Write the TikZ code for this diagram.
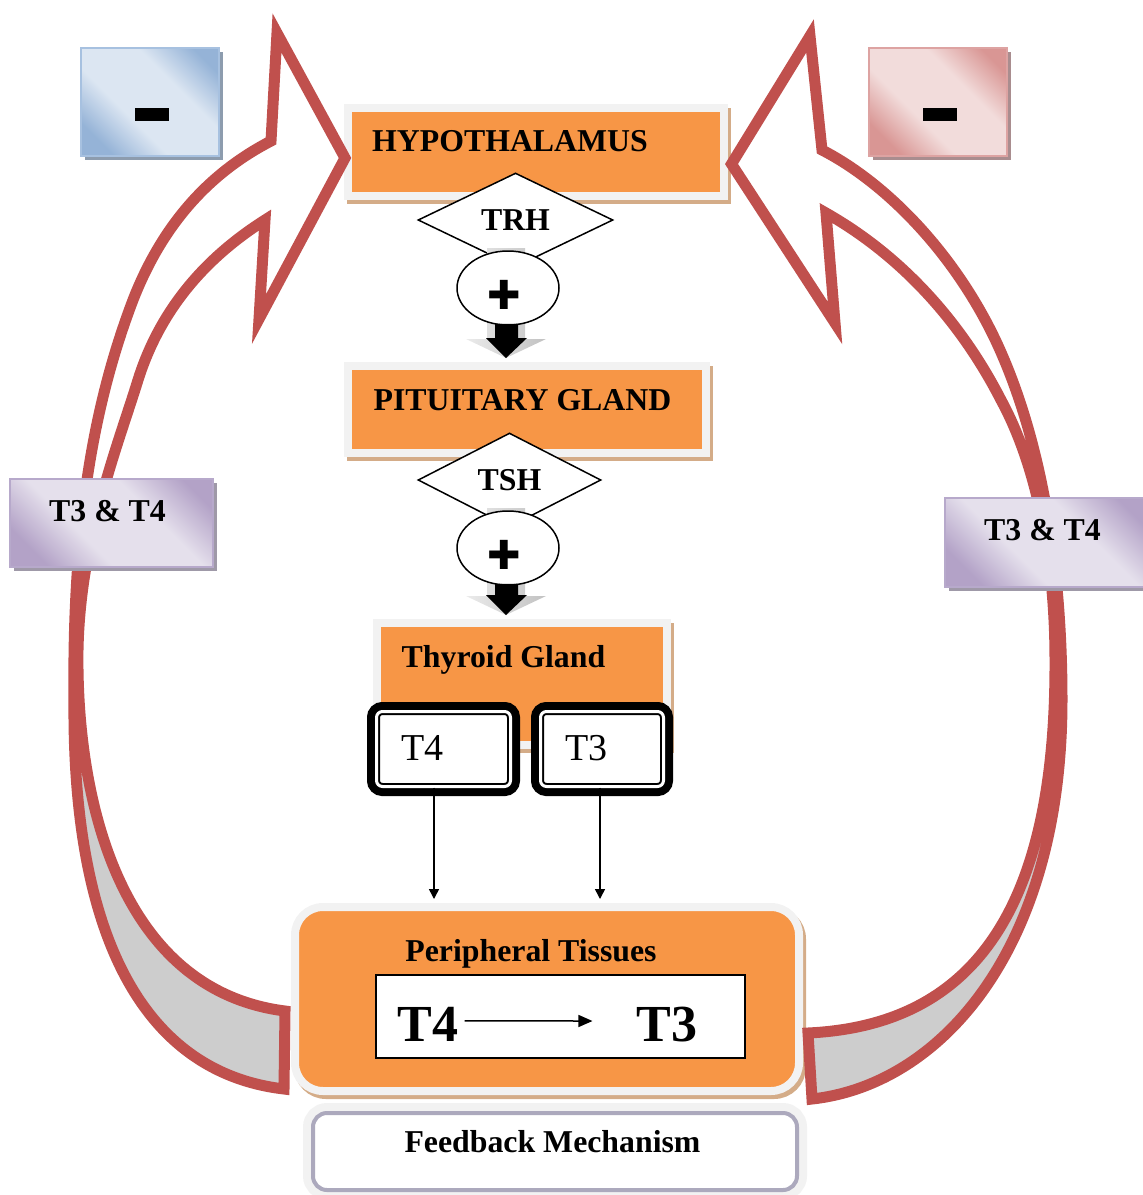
\documentclass[tikz,border=0pt]{standalone}
\usepackage{fontspec}
\setmainfont{Liberation Serif}
\newfontfamily\dingfont{DejaVu Sans}
\usetikzlibrary{arrows.meta,calc,shapes.geometric}
\definecolor{boxorange}{HTML}{F79646}
\definecolor{framegray}{HTML}{F2F2F2}
\definecolor{tanshade}{HTML}{D4AC88}
\definecolor{loopred}{HTML}{C0504D}
\definecolor{backgray}{HTML}{CDCDCD}
\definecolor{blueL}{HTML}{DCE6F2}
\definecolor{blueD}{HTML}{95B3D7}
\definecolor{blueedge}{HTML}{A7C1E0}
\definecolor{blueshade}{HTML}{8D9CAE}
\definecolor{redL}{HTML}{F2DCDB}
\definecolor{redD}{HTML}{D99694}
\definecolor{rededge}{HTML}{DDA3A2}
\definecolor{redshade}{HTML}{A98D8F}
\definecolor{purL}{HTML}{E5E0EC}
\definecolor{purD}{HTML}{B3A2C7}
\definecolor{puredge}{HTML}{B7A9CB}
\definecolor{purshade}{HTML}{9F99A8}
\definecolor{fbedge}{HTML}{ACA9BD}
\pgfdeclareverticalshading{bluegloss}{100bp}{color(0bp)=(blueD); color(24bp)=(blueD); color(40bp)=(blueL); color(62bp)=(blueL); color(78bp)=(blueD); color(100bp)=(blueD)}
\pgfdeclareverticalshading{redgloss}{100bp}{color(0bp)=(redD); color(24bp)=(redD); color(40bp)=(redL); color(62bp)=(redL); color(78bp)=(redD); color(100bp)=(redD)}
\pgfdeclareverticalshading{purgloss}{100bp}{color(0bp)=(purD); color(24bp)=(purD); color(40bp)=(purL); color(62bp)=(purL); color(78bp)=(purD); color(100bp)=(purD)}
\pgfdeclareverticalshading{loopfill}{100bp}{color(0bp)=(backgray); color(46bp)=(backgray); color(48bp)=(white); color(100bp)=(white)}
\tikzset{
    orangebox/.style={fill=boxorange,draw=framegray,line width=8pt,inner sep=0pt,
      preaction={fill=tanshade,draw=tanshade,line width=8pt,transform canvas={xshift=3pt,yshift=-4pt}}},
    signbox/.style n args={3}{shade,shading=#1,shading angle=-45,draw=#2,line width=2pt,inner sep=0pt,
      preaction={fill=#3,transform canvas={xshift=4pt,yshift=-4pt}}},
    minusbar/.style={fill=black,minimum width=34pt,minimum height=13pt,inner sep=0pt},
    gate/.style={diamond,draw,fill=white,line width=1.5pt,inner sep=0pt,
      minimum height=94pt,font=\fontsize{31.8}{36}\selectfont\bfseries},
    plusnode/.style={ellipse,draw,fill=white,line width=1.5pt,inner sep=0pt,
      minimum width=102pt,minimum height=74pt},
    plusmark/.style={inner sep=0pt,font=\fontsize{40}{40}\selectfont\dingfont},
    hormbox/.style={fill=white,draw=black,line width=2pt,double=white,double distance=3pt,
      rounded corners=6pt,inner sep=0pt,minimum height=75pt,preaction={draw=black,line width=19pt}},
    convbox/.style={fill=white,draw=black,line width=1.5pt,inner sep=0pt,
      minimum width=369pt,minimum height=83pt},
    fbbox/.style={fill=white,draw=fbedge,line width=4pt,rounded corners=14pt,inner sep=0pt,
      minimum width=484pt,minimum height=77pt,preaction={draw=framegray,line width=20pt}},
    lbl/.style={inner sep=0pt,anchor=base,font=\fontsize{31.8}{36}\selectfont\bfseries},
    hormtxt/.style={inner sep=0pt,anchor=base,font=\fontsize{38}{42}\selectfont},
    bigtxt/.style={inner sep=0pt,anchor=base,font=\fontsize{52}{56}\selectfont\bfseries},
    thinarrow/.style={-{Triangle[length=10pt,width=10pt]},line width=1.5pt},
    convarrow/.style={-{Triangle[length=14pt,width=12pt]},line width=1.5pt},
    ghostarrow/.style={left color=black!8,right color=black!24},
    loopbody/.style={draw=loopred,line width=11pt,line join=miter,shading=loopfill}
}
\begin{document}
\begin{tikzpicture}[x=1pt,y=-1pt]
  \useasboundingbox (0,0) rectangle (1143,1195);

  \node[orangebox,minimum width=376pt,minimum height=88pt] (hyp) at (536,152) {};
  \node[orangebox,minimum width=358pt,minimum height=87pt] (pit) at (527,409.5) {};
  \node[orangebox,minimum width=290pt,minimum height=122pt] (thy) at (522,684) {};
  \node[orangebox,rounded corners=28pt,minimum width=504pt,minimum height=184pt] (peri) at (547,999) {};
  \node[convbox] (conv) at (560.5,1016.5) {};
  \node[fbbox] (fb) at (555,1151.5) {};

  \node[lbl] (hypT) at (510,151) {HYPOTHALAMUS};
  \node[lbl] (pitT) at (522.5,410) {PITUITARY GLAND};
  \node[lbl] (thyT) at (503.5,667) {Thyroid Gland};
  \node[lbl] (periT) at (531,961) {Peripheral Tissues};
  \node[lbl] (fbT) at (552.5,1152) {Feedback Mechanism};
  \node[bigtxt] (bigT4) at (428,1041) {T4};
  \node[bigtxt] (bigT3) at (667,1041) {T3};
  \draw[convarrow,shorten <=6pt,shorten >=44pt] ([yshift=3pt]bigT4.east) -- ([yshift=3pt]bigT3.west);

  \shadedraw[loopbody] (284,1089) .. controls (140,1072) and (72,930) .. (74,700)
    .. controls (72,520) and (95,400) .. (133,300)
    .. controls (165,218) and (215,170) .. (271,141)
    -- (277,33) -- (345,158) -- (259,319) -- (265,220)
    .. controls (205,258) and (160,310) .. (138,380)
    .. controls (118,445) and (80,540) .. (78,650)
    .. controls (76,800) and (120,990) .. (285,1011) -- cycle;
  \shadedraw[loopbody] (812,1099) .. controls (940,1085) and (1062,950) .. (1062,700)
    .. controls (1062,560) and (1040,440) .. (1000,350)
    .. controls (960,260) and (890,185) .. (822,150)
    -- (810,36) -- (731.5,164) -- (835,323) -- (826,213)
    .. controls (900,255) and (960,320) .. (1001,400)
    .. controls (1037,466) and (1055,560) .. (1055,660)
    .. controls (1056,900) and (980,1025) .. (808,1033) -- cycle;

  \node[gate,minimum width=195pt] (trh) at (515.5,220) {TRH};
  \node[gate,minimum width=183pt] (tsh) at (509.5,480) {TSH};
  \coordinate (ghostA) at (506,248);
  \coordinate (ghostB) at (506,508);
  \foreach \src/\dst in {ghostA/pit,ghostB/thy}
    \path[ghostarrow] ($(\src)+(-19,0)$) -- ($(\src)+(19,0)$) -- ($(\src |- \dst.north)+(19,-23)$)
      -- ($(\src |- \dst.north)+(40,-23)$) -- ($(\src |- \dst.north)+(0,-4)$)
      -- ($(\src |- \dst.north)+(-40,-23)$) -- ($(\src |- \dst.north)+(-19,-23)$) -- cycle;
  \node[plusnode] (plusA) at (508,288) {};
  \node[plusnode] (plusB) at (508,548) {};
  \node[plusmark] (plusAT) at (504,295) {✚};
  \node[plusmark] (plusBT) at (504,555) {✚};
  \foreach \src/\dst in {plusA/pit,plusB/thy}
    \fill ($(\src.south)+(-13,-2)$) -- ($(\src.south)+(10,-2)$) -- ($(\src.south |- \dst.north)+(10,-24)$)
      -- ($(\src.south |- \dst.north)+(19,-24)$) -- ($(\src.south |- \dst.north)+(-2,-4)$)
      -- ($(\src.south |- \dst.north)+(-22,-24)$) -- ($(\src.south |- \dst.north)+(-13,-24)$) -- cycle;

  \node[hormbox,minimum width=134pt] (t4) at (443.5,749) {};
  \node[hormbox,minimum width=123pt] (t3) at (602,749) {};
  \draw[thinarrow,shorten >=4pt] ($(t4.south)+(-9.5,0)$) -- ($(t4.south |- peri.north)+(-9.5,0)$);
  \draw[thinarrow,shorten >=4pt] ($(t3.south)+(-2,0)$) -- ($(t3.south |- peri.north)+(-2,0)$);
  \node[hormtxt] (t4T) at (422.5,760) {T4};
  \node[hormtxt] (t3T) at (586.5,760) {T3};

  \node[signbox={bluegloss}{blueedge}{blueshade},minimum width=138pt,minimum height=108pt] (minusL) at (150,102) {};
  \node[minusbar] (barL) at (152,114.5) {};
  \node[signbox={redgloss}{rededge}{redshade},minimum width=138pt,minimum height=108pt] (minusR) at (938,102) {};
  \node[minusbar] (barR) at (940,114.5) {};
  \node[signbox={purgloss}{puredge}{purshade},minimum width=203pt,minimum height=88pt] (hormL) at (111.5,523) {};
  \node[signbox={purgloss}{puredge}{purshade},minimum width=203pt,minimum height=89pt] (hormR) at (1046.5,542.5) {};
  \node[lbl] (hormLT) at (107.5,521) {T3 \& T4};
  \node[lbl] (hormRT) at (1042.5,540) {T3 \& T4};
\end{tikzpicture}
\end{document}
